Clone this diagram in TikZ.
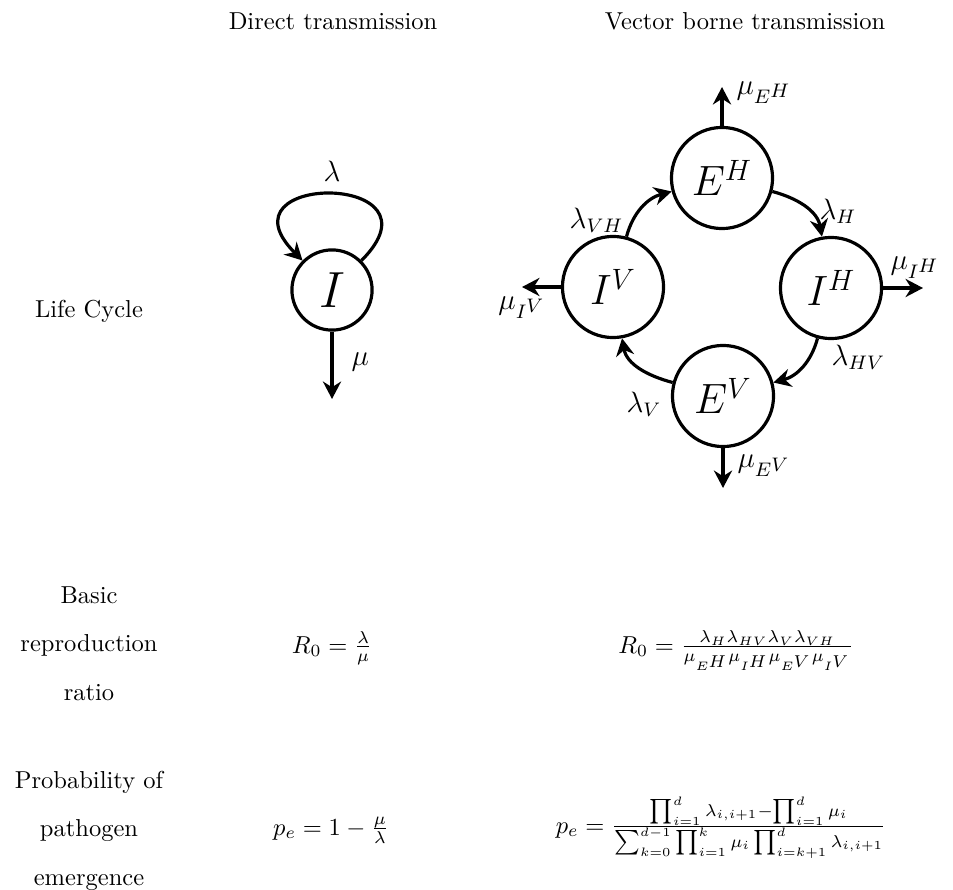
\documentclass[tikz,border=0pt]{standalone}
\usetikzlibrary{arrows.meta}
\begin{document}
\begin{tikzpicture}[x=0.01435cm,y=-0.01435cm,line width=1.3pt,
  >={Stealth[length=2.5mm,width=2.6mm]},node distance=0.696cm,
  rowlab/.style={text height=1.5ex,text depth=.25ex},
  comp/.style={draw,circle,inner sep=0pt},
  lab/.style={font=\large}]
\useasboundingbox (0,0) rectangle (953,889);
% column and row heads
\node[anchor=base] (direct) at (333,30) {Direct transmission};
\node[anchor=base] (vector) at (745,30) {Vector borne transmission};
\node[anchor=base] (life) at (89,317) {Life Cycle};
\node[rowlab] (repro) at (89,645) {reproduction};
\node[rowlab,above of=repro] (basic) {Basic};
\node[rowlab,below of=repro] (ratio) {ratio};
\node[rowlab] (patho) at (89,830) {pathogen};
\node[rowlab,above of=patho] (prob) {Probability of};
\node[rowlab,below of=patho] (emerg) {emergence};
% direct transmission
\node[comp,minimum size=1.15cm,font=\huge] (I) at (332,290) {$I$};
\coordinate (eI) at (332,399);
\draw[->] (I.45) to[out=45,in=135,distance=1.8cm] node[above=1pt,lab] {$\lambda$} (I.135);
\draw[->] (I) -- (eI) node[pos=0.45,right=4pt,lab] {$\mu$};
% vector borne transmission
\node[comp,minimum size=1.45cm,font=\LARGE] (EH) at (722,178) {$E^H$};
\node[comp,minimum size=1.45cm,font=\LARGE] (IH) at (831,288) {$I^H$};
\node[comp,minimum size=1.45cm,font=\LARGE] (EV) at (723,396) {$E^V$};
\node[comp,minimum size=1.45cm,font=\LARGE] (IV) at (613,287) {$I^V$};
\coordinate (eEH) at (722,87);
\coordinate (eIH) at (923,288);
\coordinate (eEV) at (723,488);
\coordinate (eIV) at (522,287);
\draw[->] (EH) -- (eEH) node[pos=0.85,right=2pt,lab] {$\mu_{E^{\scriptstyle H}}$};
\draw[->] (IH) -- (eIH) node[pos=0.8,above,lab] {$\mu_{I^{\scriptstyle H}}$};
\draw[->] (EV) -- (eEV) node[pos=0.45,right=2pt,lab] {$\mu_{E^{\scriptstyle V}}$};
\draw[->] (IV) -- (eIV) node[pos=1,below,lab] {$\mu_{I^{\scriptstyle V}}$};
\draw[->] (EH) to[out=-15,in=100] node[pos=0.6,right,lab] {$\lambda_H$} (IH);
\draw[->] (IH) to[out=-105,in=15] node[pos=0.3,right=5pt,lab] {$\lambda_{HV}$} (EV);
\draw[->] (EV) to[out=165,in=-80] node[pos=0.02,below left,lab] {$\lambda_V$} (IV);
\draw[->] (IV) to[out=75,in=195] node[pos=0.25,left,lab] {$\lambda_{VH}$} (EH);
% formulas
\node[anchor=base] (rzd) at (332,653) {$R_0=\frac{\lambda}{\mu}$};
\node[anchor=base] (rzv) at (736,653) {$R_0=\frac{\lambda_H\lambda_{HV}\lambda_V\lambda_{VH}}{\mu_{E^{\scriptstyle H}}\mu_{I^{\scriptstyle H}}\mu_{E^{\scriptstyle V}}\mu_{I^{\scriptstyle V}}}$};
\node[anchor=base] (ped) at (331,835) {$p_e=1-\frac{\mu}{\lambda}$};
\node[anchor=base] (pev) at (721,833) {$p_e=\frac{\prod_{i=1}^d\lambda_{i,i+1}-\prod_{i=1}^d\mu_i}{\sum_{k=0}^{d-1}\prod_{i=1}^k\mu_i\prod_{i=k+1}^d\lambda_{i,i+1}}$};
\end{tikzpicture}
\end{document}
